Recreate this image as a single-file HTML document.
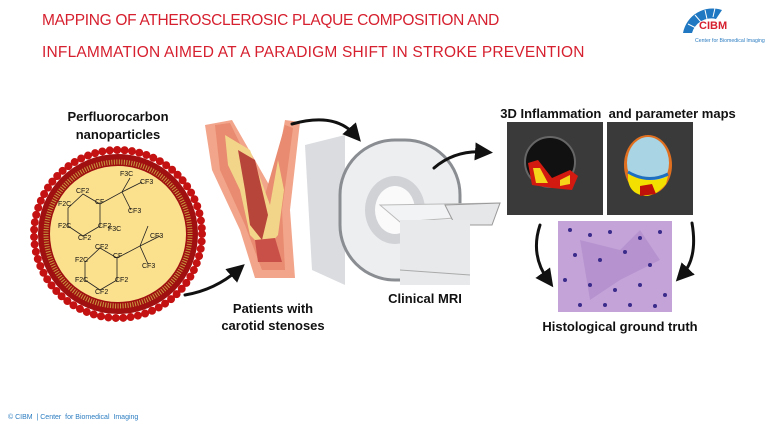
<!DOCTYPE html>
<html><head><meta charset="utf-8"><style>
html,body{margin:0;padding:0;background:#fff;}
#c{position:relative;width:768px;height:432px;overflow:hidden;font-family:"Liberation Sans",Arial,sans-serif;}
.t{position:absolute;color:#d6202f;font-size:15.5px;white-space:nowrap;}
.b{position:absolute;font-weight:bold;font-size:13px;color:#111;text-align:center;}
</style></head><body><div id="c">
<div class="t" style="left:42px;top:12px;letter-spacing:-0.3px;">MAPPING OF ATHEROSCLEROSIC PLAQUE COMPOSITION AND</div>
<div class="t" style="left:42px;top:44px;letter-spacing:0.2px;">INFLAMMATION AIMED AT A PARADIGM SHIFT IN STROKE PREVENTION</div>
<div class="b" style="left:38px;top:108px;width:160px;line-height:18px;">Perfluorocarbon<br>nanoparticles</div>
<div class="b" style="left:208px;top:300px;width:130px;line-height:17px;">Patients with<br>carotid stenoses</div>
<div class="b" style="left:370px;top:291px;width:110px;">Clinical MRI</div>
<div class="b" style="left:468px;top:106px;width:300px;">3D Inflammation&nbsp; and parameter maps</div>
<div class="b" style="left:510px;top:319px;width:220px;">Histological ground truth</div>
<div style="position:absolute;left:8px;top:414px;font-size:7px;color:#2b7cc0;">© CIBM &nbsp;| Center &nbsp;for Biomedical &nbsp;Imaging</div>
<svg width="768" height="432" style="position:absolute;left:0;top:0">
<defs><marker id="a" markerWidth="6" markerHeight="6" refX="3" refY="3" orient="auto" markerUnits="strokeWidth"><path d="M0,0L6,3L0,6z" fill="#111"/></marker></defs>
<!-- logo -->
<path d="M683,33 A30,30 0 0 1 722,10 L716,19 A20,20 0 0 0 692,33 Z" fill="#1f78c1"/>
<g stroke="#fff" stroke-width="1"><line x1="688" y1="24" x2="696" y2="28"/><line x1="695" y1="15" x2="701" y2="22"/><line x1="705" y1="10" x2="707" y2="19"/><line x1="715" y1="8" x2="713" y2="17"/></g>
<text x="699" y="29" font-family="Liberation Sans" font-weight="bold" font-size="11" fill="#d6202f">CIBM</text>
<text x="695" y="42" font-family="Liberation Sans" font-size="5.2" fill="#2b7cc0">Center for Biomedical Imaging</text>
<!-- nanoparticle -->
<circle cx="118" cy="234" r="80" fill="#a01010"/>
<circle cx="118" cy="234" r="84" fill="none" stroke="#c41212" stroke-width="8" stroke-dasharray="0 7.45" stroke-linecap="round"/>
<circle cx="118" cy="234" r="72" fill="none" stroke="#c89a40" stroke-width="5" stroke-dasharray="1 1.5"/>
<circle cx="118" cy="234" r="68" fill="#fbe08e"/>
<g stroke="#222" stroke-width="0.8" fill="none">
<path d="M68,208 L83,194 L100,204 L100,226 L83,236 L68,226Z"/>
<path d="M100,204 L122,192 L130,178 M122,192 L142,182 M122,192 L131,210"/>
<path d="M85,262 L100,248 L117,258 L117,280 L100,290 L85,280Z"/>
<path d="M117,258 L140,246 L148,226 M140,246 L160,236 M140,246 L148,264"/>
</g>
<g font-family="Liberation Sans" font-size="7" fill="#111">
<text x="120" y="176">F3C</text><text x="140" y="184">CF3</text><text x="128" y="213">CF3</text>
<text x="76" y="193">CF2</text><text x="58" y="206">F2C</text><text x="95" y="204">CF</text>
<text x="58" y="228">F2C</text><text x="98" y="228">CF2</text><text x="78" y="240">CF2</text>
<text x="108" y="231">F3C</text><text x="150" y="238">CF3</text><text x="142" y="268">CF3</text>
<text x="95" y="249">CF2</text><text x="75" y="262">F2C</text><text x="113" y="258">CF</text>
<text x="75" y="282">F2C</text><text x="115" y="282">CF2</text><text x="95" y="294">CF2</text>
</g>
<!-- artery -->
<path d="M205,125 L232,120 L272,190 L285,120 L300,122 L290,210 L295,278 L255,278 L240,230 L212,170Z" fill="#f2a58a"/>
<path d="M215,125 L230,123 L265,195 L285,125 L293,128 L282,210 L285,270 L262,270 L245,225 L220,170Z" fill="#e88b70"/>
<path d="M225,135 L250,150 L270,205 L278,160 L284,190 L278,235 L265,250 L250,235 L240,190 L228,165Z" fill="#f3d58a"/>
<path d="M238,150 L255,160 L268,215 L262,240 L250,225 L245,190Z" fill="#b8453a"/>
<path d="M255,240 L275,238 L282,262 L258,262Z" fill="#c95048"/>
<!-- MRI scanner -->
<path d="M305,145 L345,135 L345,285 L312,270 Z" fill="#dadcdf"/>
<rect x="340" y="140" width="120" height="140" rx="55" fill="#eceef0" stroke="#8a8d92" stroke-width="3"/>
<ellipse cx="395" cy="210" rx="30" ry="34" fill="#d0d2d6"/>
<ellipse cx="395" cy="210" rx="20" ry="24" fill="#fafafa"/>
<path d="M380,205 L500,203 L495,215 L400,222Z" fill="#f2f3f4" stroke="#bbb"/>
<path d="M445,205 L500,203 L492,225 L455,225Z" fill="#e6e7e9" stroke="#999"/>
<rect x="400" y="220" width="70" height="65" fill="#e8e9eb"/>
<line x1="400" y1="270" x2="470" y2="275" stroke="#aaa"/>
<!-- MRI maps -->
<rect x="507" y="122" width="96" height="93" fill="#3a3a3a"/>
<circle cx="550" cy="162" r="25" fill="#111" stroke="#666" stroke-width="2"/>
<path d="M528,163 L538,160 L552,178 L570,170 L578,176 L572,190 L552,188 L532,185Z" fill="#d21a10"/>
<path d="M533,168 L540,168 L548,183 L536,183Z M560,180 L570,175 L570,184 L560,186Z" fill="#f6d41a"/>
<rect x="607" y="122" width="86" height="93" fill="#3a3a3a"/>
<ellipse cx="648" cy="165" rx="24" ry="30" fill="#e07020"/>
<ellipse cx="648" cy="163" rx="21" ry="26" fill="#a8d4e4"/>
<path d="M628,172 Q648,186 668,176 L666,184 Q656,196 645,196 Q630,194 628,180Z" fill="#f4e000"/>
<path d="M640,186 L652,184 L656,194 L640,196Z" fill="#c0100a"/>
<path d="M628,172 Q648,184 668,174" stroke="#1e6fc0" stroke-width="3" fill="none"/>
<!-- histology -->
<rect x="558" y="221" width="114" height="91" fill="#c4a4d8"/>
<path d="M580,240 L620,250 L640,230 L660,260 L620,280 L590,300 Z" fill="#b08ccc" opacity="0.7"/>
<g fill="#3a2a8a">
<circle cx="570" cy="230" r="2"/><circle cx="590" cy="235" r="2"/><circle cx="610" cy="232" r="2"/><circle cx="640" cy="238" r="2"/><circle cx="660" cy="232" r="2"/>
<circle cx="575" cy="255" r="2"/><circle cx="600" cy="260" r="2"/><circle cx="625" cy="252" r="2"/><circle cx="650" cy="265" r="2"/>
<circle cx="565" cy="280" r="2"/><circle cx="590" cy="285" r="2"/><circle cx="615" cy="290" r="2"/><circle cx="640" cy="285" r="2"/><circle cx="665" cy="295" r="2"/>
<circle cx="580" cy="305" r="2"/><circle cx="605" cy="305" r="2"/><circle cx="630" cy="305" r="2"/><circle cx="655" cy="306" r="2"/>
</g>
<!-- arrows -->
<g stroke="#111" stroke-width="3" fill="none" stroke-linecap="round">
<path d="M185,295 Q215,290 238,270" marker-end="url(#a)"/>
<path d="M292,124 Q335,112 355,135" marker-end="url(#a)"/>
<path d="M434,168 Q455,150 484,152" marker-end="url(#a)"/>
<path d="M540,225 Q530,255 548,280" marker-end="url(#a)"/>
<path d="M692,223 Q698,258 682,275" marker-end="url(#a)"/>
</g>
</svg>
</div></body></html>
